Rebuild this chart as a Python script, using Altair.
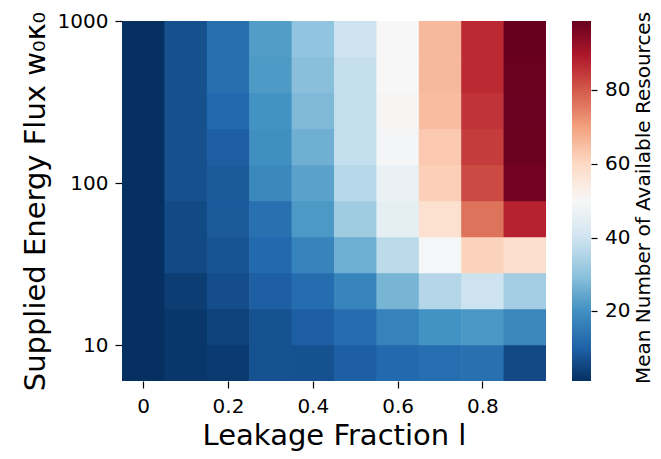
import altair as alt
import pandas as pd

# ---- data ----
leakage = [0.0, 0.1, 0.2, 0.3, 0.4, 0.5, 0.6, 0.7, 0.8, 0.9]
energy_flux = [10.0, 16.68, 27.83, 46.42, 77.43, 129.15, 215.44, 359.38, 599.48, 1000.0]

# mean number of available resources, one row per energy flux level (low -> high)
res_f10 = [1.0, 2.3, 2.8, 7.2, 7.0, 9.5, 11.5, 12.5, 13.0, 5.6]
res_f17 = [1.0, 2.3, 4.3, 7.2, 9.5, 12.3, 16.9, 20.4, 21.6, 18.2]
res_f28 = [1.0, 3.4, 6.3, 9.5, 12.3, 17.5, 27.2, 35.6, 39.5, 32.8]
res_f46 = [1.0, 5.7, 7.5, 11.5, 17.1, 25.9, 36.8, 49.5, 61.4, 58.4]
res_f77 = [1.0, 5.7, 8.6, 13.0, 21.8, 32.5, 45.0, 58.0, 76.6, 87.7]
res_f129 = [1.0, 6.8, 8.6, 18.2, 23.5, 35.9, 46.7, 61.9, 82.3, 97.3]
res_f215 = [1.0, 6.8, 9.5, 19.7, 26.0, 38.0, 49.0, 63.0, 84.2, 98.2]
res_f359 = [1.0, 6.8, 11.5, 20.4, 28.0, 38.0, 50.5, 65.3, 85.4, 98.4]
res_f599 = [1.0, 6.8, 12.7, 22.0, 29.2, 38.3, 50.0, 65.9, 86.7, 98.6]
res_f1000 = [1.0, 6.8, 12.7, 22.5, 30.2, 39.5, 50.0, 65.9, 86.7, 98.9]
resources = [res_f10, res_f17, res_f28, res_f46, res_f77,
             res_f129, res_f215, res_f359, res_f599, res_f1000]

x_ticks = [0, 0.2, 0.4, 0.6, 0.8]
y_ticks = [10, 100, 1000]
cbar_ticks = [20, 40, 60, 80]

rows = []
for f, vals in zip(energy_flux, resources):
    for l, v in zip(leakage, vals):
        rows.append({"leak": l, "flux": f, "value": v})
df = pd.DataFrame(rows)

rdbu_r = ["#053061", "#2166ac", "#4393c3", "#92c5de", "#d1e5f0", "#f7f7f7",
          "#fddbc7", "#f4a582", "#d6604d", "#b2182b", "#67001f"]
vmin, vmax = df["value"].min(), df["value"].max()
stops = [vmin + k * (vmax - vmin) / 10 for k in range(11)]

row_step = 10 ** (2 / 9)
half = 0.05
seam = 1.004  # tiny overlap so anti-aliased seams between cells do not show
FONT = "DejaVu Sans"

heat = alt.Chart(df).transform_calculate(
    x_lo=f"datum.leak - {half}",
    x_hi=f"datum.leak + {half * 1.03}",
    y_lo=f"datum.flux / {row_step * seam}",
).mark_rect(clip=True).encode(
    x=alt.X("x_lo:Q",
            scale=alt.Scale(domain=[min(leakage) - half, max(leakage) + half], nice=False, zero=False),
            axis=alt.Axis(values=x_ticks, format="~g", title="Leakage Fraction l",
                          titleX=212, titleY=63, titleAlign="center", titleBaseline="alphabetic",
                          labelPadding=8)),
    x2="x_hi:Q",
    y=alt.Y("flux:Q",
            scale=alt.Scale(type="log", domain=[min(energy_flux) / row_step, max(energy_flux)], nice=False),
            axis=alt.Axis(values=y_ticks, format="d", title="Supplied Energy Flux w₀κ₀",
                          titleX=-78, titleY=180, titleAngle=270, titleAlign="center",
                          titleBaseline="alphabetic", labelPadding=7)),
    y2="y_lo:Q",
    color=alt.Color("value:Q",
                    scale=alt.Scale(domain=stops, range=rdbu_r, interpolate="rgb"),
                    legend=alt.Legend(type="gradient", title=None, orient="none",
                                      legendX=450, legendY=0,
                                      padding=0, direction="vertical",
                                      gradientLength=360, gradientThickness=19,
                                      gradientStrokeWidth=0, labelFontSize=20, labelFont=FONT,
                                      labelColor="black", labelOffset=14, values=cbar_ticks)),
)

# small tick marks on the right side of the colour bar, drawn by an axis with no labels
cbar_tick_marks = alt.Chart(pd.DataFrame({"t": cbar_ticks})).mark_point(opacity=0).encode(
    y=alt.Y("t:Q", scale=alt.Scale(domain=[vmin, vmax], nice=False, zero=False),
            axis=alt.Axis(orient="right", offset=45, values=cbar_ticks, labels=False,
                          ticks=True, tickSize=6, domain=False, title=None, grid=False)),
    x=alt.value(440),
)

title_df = pd.DataFrame({"label": ["Mean Number of Available Resources"]})
cbar_title = alt.Chart(title_df).mark_text(
    angle=270, font=FONT, fontSize=20, baseline="alphabetic", align="center", color="black"
).encode(x=alt.value(528), y=alt.value(177), text="label:N")

chart = alt.layer(heat, cbar_tick_marks, cbar_title).resolve_scale(y="independent").properties(
    width=424, height=360,
    autosize=alt.AutoSizeParams(type="none"),
    padding={"left": 114, "top": 13, "right": 107, "bottom": 70},
).configure_view(stroke=None).configure_axis(
    labelFont=FONT, labelFontSize=20, labelColor="black",
    titleFont=FONT, titleFontSize=29, titleFontWeight="normal", titleColor="black",
    domain=False, grid=False, tickColor="black", tickSize=7, tickWidth=1.2,
)

chart.save("out.html", embed_options={"renderer": "svg", "actions": False})
